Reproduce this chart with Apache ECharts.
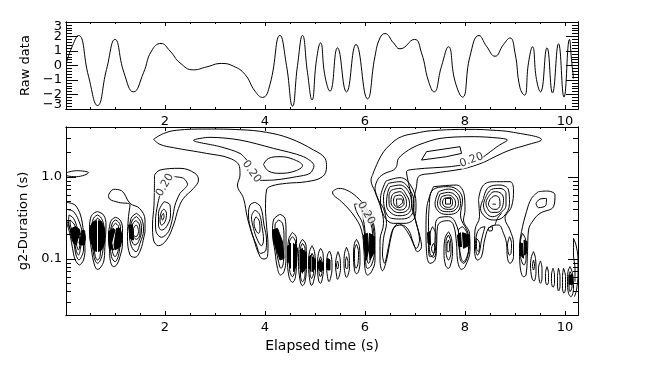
<!DOCTYPE html>
<html>
<head>
<meta charset="utf-8">
<style>
  html, body { margin: 0; padding: 0; background: #fff; }
  #chart { width: 656px; height: 371px; }
</style>
<script src="https://cdn.jsdelivr.net/npm/echarts@6/dist/echarts.min.js"></script>
</head>
<body>
<div id="chart"></div>
<script>
// x range in seconds, y range of the wavelet panel in log10(duration)
const tMin = 0.02, tMax = 10.26;
const rawMin = -3, rawMax = 3;
const lgMin = -1.683, lgMax = 0.61;

const tMajor = [2, 4, 6, 8, 10];
const tMinor = [0.5, 1, 1.5, 2, 2.5, 3, 3.5, 4, 4.5, 5, 5.5, 6, 6.5, 7, 7.5, 8, 8.5, 9, 9.5, 10];
const rawMajor = [-3, -2, -1, 0, 1, 2, 3];
const rawLabelAt = [-2, -1, 0, 1, 2];
// the end labels sit just inside the frame in the reference, not on their ticks
const rawEndLabelAt = [-2.72, 2.66];
const rawMinor = [-2.8, -2.6, -2.4, -2.2, -1.8, -1.6, -1.4, -1.2, -0.8, -0.6, -0.4, -0.2, 0.2, 0.4, 0.6, 0.8, 1.2, 1.4, 1.6, 1.8, 2.2, 2.4, 2.6, 2.8];
const durMajor = [1, 0.1];
const durMinor = [4, 3, 2, 0.9, 0.8, 0.7, 0.6, 0.5, 0.4, 0.3, 0.2, 0.09, 0.08, 0.07, 0.06, 0.05, 0.04, 0.03];

// raw data trace [time, value]
const rawData = [
  [0.03, 0.2], [0.13, 1.2], [0.27, 2.07], [0.47, -0.74], [0.65, -2.76], [0.83, -0.28], [1.0, 1.8], [1.18, -0.5],
  [1.37, -1.82], [1.57, -0.5], [1.73, 1.0], [1.92, 1.52], [2.1, 1.0], [2.3, 0.18], [2.57, -0.3], [2.83, -0.1],
  [3.13, 0.14], [3.37, -0.05], [3.6, -0.62], [3.8, -1.77], [3.95, -2.2], [4.1, -1.3], [4.3, 2.07], [4.43, 0],
  [4.55, -2.8], [4.65, 0], [4.75, 2.07], [4.85, -0.5], [4.94, -2.37], [5.03, 0.4], [5.11, 1.56], [5.2, -0.74],
  [5.3, -1.77], [5.45, 1.22], [5.63, -1.82], [5.82, 1.45], [6.05, -2.3], [6.2, 0.64], [6.3, 1.9], [6.4, 2.2],
  [6.57, 1.56], [6.7, 1.15], [6.99, 1.8], [7.13, 0.87], [7.27, -1.08], [7.38, -1.82], [7.53, -0.05], [7.67, 1.29],
  [7.8, -1.08], [7.95, -2.18], [8.1, 0.64], [8.28, 2.07], [8.43, 1.33], [8.6, 0.64], [8.77, 1.45], [8.9, 1.9],
  [9.0, 0.87], [9.1, -1.54], [9.19, -2.05], [9.27, 0.18], [9.35, 1.29], [9.43, -0.97], [9.51, -1.82], [9.64, 1.22],
  [9.75, -1.89], [9.87, 1.5], [9.98, -2.18], [10.09, 1.8], [10.13, 0.4], [10.17, -0.9]
];

// contours [time, log10(duration)], closed loops
const ridgeLeft = [
  [[1.77,.46],[1.97,.53],[2.23,.57],[2.83,.585],[3.5,.577],[4.03,.545],[4.5,.47],[4.97,.33],[5.2,.227],[5.23,.126],[5.15,.004],[4.83,-.057],[4.43,-.077],[4.13,-.11],[4.03,-.159],[4.01,-.382],[4.03,-.586],[4.06,-.83],[4.05,-.97],[3.98,-1.0],[3.9,-.97],[3.77,-.748],[3.65,-.504],[3.57,-.26],[3.45,-.098],[3.5,.024],[3.49,.126],[3.3,.227],[2.83,.288],[2.17,.358],[1.9,.398]],
  [[3.97,.154],[4.07,.227],[4.3,.248],[4.57,.215],[4.75,.138],[4.6,.073],[4.3,.045],[4.07,.073]]
];
const lobeEdge = [
  [[.03,.053],[.23,.077],[.47,.053],[.23,.004],[.03,.024]]
];
const lobe03 = [
  [[.08,-.463],[.17,-.504],[.25,-.626],[.33,-.748],[.31,-.869],[.27,-.951],[.22,-.89],[.18,-.747],[.11,-.646],[.07,-.544]],
  [[.1,-.524],[.18,-.573],[.25,-.666],[.3,-.788],[.27,-.89],[.23,-.829],[.18,-.687],[.11,-.597]]
];
const lobe065 = [
  [[.65,-.422],[.77,-.463],[.82,-.585],[.8,-.808],[.78,-1.012],[.7,-1.113],[.65,-1.126],[.59,-1.073],[.53,-.89],[.49,-.646],[.51,-.504],[.57,-.443]],
  [[.65,-.463],[.73,-.504],[.78,-.626],[.75,-.93],[.65,-1.052],[.58,-.971],[.53,-.646],[.57,-.504]],
  [[.65,-.504],[.72,-.544],[.73,-.626],[.7,-.971],[.65,-1.012],[.6,-.951],[.55,-.646],[.59,-.544]]
];
const lobe10 = [
  [[1.01,-.491],[1.1,-.524],[1.15,-.626],[1.15,-.808],[1.1,-.971],[1.03,-1.073],[.97,-1.093],[.91,-1.032],[.89,-.89],[.87,-.727],[.89,-.605],[.93,-.524]],
  [[1.01,-.524],[1.09,-.565],[1.11,-.646],[1.09,-.89],[1.0,-1.032],[.93,-.971],[.9,-.727],[.95,-.556]],
  [[1.01,-.565],[1.07,-.605],[1.07,-.849],[1.0,-.971],[.95,-.91],[.93,-.646],[.97,-.589]]
];
const lobe14 = [
  [[.87,-.22],[.97,-.15],[1.13,-.167],[1.3,-.321],[1.49,-.382],[1.6,-.525],[1.6,-.667],[1.58,-.727],[1.51,-.89],[1.4,-.979],[1.3,-.951],[1.25,-.727],[1.27,-.483],[1.3,-.341],[1.07,-.309],[.89,-.268]],
  [[1.43,-.443],[1.53,-.504],[1.57,-.646],[1.5,-.808],[1.42,-.91],[1.33,-.849],[1.29,-.687],[1.32,-.504]],
  [[1.43,-.483],[1.51,-.544],[1.53,-.646],[1.47,-.788],[1.4,-.829],[1.33,-.768],[1.31,-.626],[1.35,-.524]],
  [[1.42,-.532],[1.49,-.585],[1.5,-.687],[1.43,-.76],[1.37,-.727],[1.33,-.626],[1.37,-.556]],
  [[1.37,-.626],[1.42,-.585],[1.47,-.666],[1.42,-.727],[1.37,-.707]]
];
const lobe20 = [
  [[1.79,.024],[1.9,.085],[2.3,.106],[2.6,.045],[2.67,-.037],[2.57,-.138],[2.37,-.26],[2.27,-.382],[2.17,-.586],[2.03,-.768],[1.87,-.838],[1.77,-.768],[1.75,-.586],[1.78,-.342]],
  [[1.98,-.301],[2.1,-.342],[2.11,-.464],[2.03,-.606],[1.93,-.647],[1.87,-.586],[1.87,-.443]],
  [[1.98,-.39],[2.03,-.443],[2.0,-.545],[1.93,-.586],[1.9,-.525],[1.93,-.423]],
  [[1.97,-.443],[1.98,-.484],[1.95,-.525],[1.93,-.484]]
];
const lobe38 = [
  [[3.8,-.309],[3.91,-.362],[3.98,-.586],[4.03,-.768],[4.02,-.89],[3.91,-.931],[3.83,-.83],[3.73,-.667],[3.67,-.464],[3.7,-.342]],
  [[3.8,-.403],[3.89,-.455],[3.94,-.606],[3.97,-.768],[3.93,-.838],[3.85,-.768],[3.77,-.626],[3.73,-.484]],
  [[3.82,-.484],[3.89,-.545],[3.9,-.646],[3.87,-.687],[3.8,-.626],[3.78,-.545]]
];
const lobesDecay = [
  [[4.3,-.455],[4.4,-.504],[4.42,-.667],[4.42,-.992],[4.38,-1.154],[4.31,-1.195],[4.25,-1.114],[4.2,-.911],[4.15,-.667],[4.17,-.525]],
  [[4.27,-.525],[4.35,-.565],[4.38,-.748],[4.37,-1.033],[4.32,-1.114],[4.27,-1.033],[4.2,-.748],[4.2,-.586]],
  [[4.55,-.675],[4.63,-.748],[4.63,-.992],[4.61,-1.216],[4.55,-1.285],[4.48,-1.216],[4.45,-.992],[4.47,-.768]],
  [[4.55,-.728],[4.61,-.789],[4.6,-1.114],[4.55,-1.216],[4.49,-1.114],[4.49,-.789]],
  [[4.75,-.76],[4.82,-.83],[4.83,-1.073],[4.8,-1.277],[4.75,-1.325],[4.7,-1.256],[4.67,-1.033],[4.69,-.83]],
  [[4.75,-.809],[4.8,-.87],[4.8,-1.195],[4.75,-1.277],[4.71,-1.195],[4.71,-.87]],
  [[4.94,-.838],[4.99,-.911],[5.01,-1.114],[4.97,-1.277],[4.93,-1.321],[4.9,-1.277],[4.87,-1.073],[4.89,-.911]],
  [[4.94,-.931],[4.98,-.992],[4.97,-1.175],[4.93,-1.236],[4.9,-1.175],[4.91,-.992]],
  [[5.11,-.87],[5.16,-.931],[5.17,-1.114],[5.14,-1.256],[5.11,-1.297],[5.07,-1.256],[5.05,-1.073],[5.07,-.931]],
  [[5.11,-.972],[5.14,-1.033],[5.14,-1.154],[5.11,-1.216],[5.08,-1.154],[5.08,-1.033]],
  [[5.29,-.903],[5.33,-.972],[5.34,-1.114],[5.31,-1.236],[5.28,-1.277],[5.25,-1.216],[5.23,-1.073],[5.25,-.951]],
  [[5.46,-.911],[5.5,-.992],[5.51,-1.114],[5.48,-1.216],[5.45,-1.248],[5.43,-1.195],[5.41,-1.073],[5.43,-.972]],
  [[5.45,-1.025],[5.47,-1.073],[5.45,-1.122],[5.43,-1.073]],
  [[5.63,-.858],[5.68,-.951],[5.69,-1.093],[5.66,-1.195],[5.63,-1.224],[5.6,-1.175],[5.58,-1.053],[5.59,-.931]],
  [[5.63,-.972],[5.66,-1.033],[5.65,-1.114],[5.62,-1.114],[5.61,-1.033]],
  [[5.83,-.76],[5.89,-.85],[5.9,-1.033],[5.87,-1.155],[5.83,-1.179],[5.79,-1.134],[5.77,-.951],[5.79,-.809]],
  [[5.83,-.821],[5.87,-.911],[5.86,-1.053],[5.82,-1.114],[5.79,-1.033],[5.79,-.89]]
];
const lobe60 = [
  [[5.35,-.179],[5.47,-.139],[5.63,-.159],[5.83,-.24],[6.03,-.383],[6.17,-.565],[6.2,-.769],[6.2,-1.013],[6.13,-1.155],[6.05,-1.196],[6.0,-1.114],[5.98,-.911],[5.93,-.647],[5.77,-.464],[5.53,-.301],[5.37,-.22]],
  [[5.79,-.33],[5.9,-.342],[6.07,-.464],[6.17,-.647],[6.19,-.891],[6.13,-1.074],[6.05,-1.114],[6.01,-1.013],[6.0,-.769],[5.95,-.565],[5.83,-.423]],
  [[5.92,-.383],[6.05,-.484],[6.15,-.687],[6.13,-.931],[6.07,-1.053],[6.03,-.972],[6.01,-.728],[5.97,-.525]]
];
const archOuter = [
  [[6.15,.024],[6.33,.268],[6.53,.41],[6.73,.492],[7,.532],[7.33,.565],[8.1,.581],[8.5,.573],[8.97,.545],[9.53,.455],[9.23,.39],[8.9,.329],[8.6,.248],[8.37,.179],[8.1,.122],[7.9,.093],[7.37,.045],[7.07,.004],[7.03,-.118],[6.97,-.322],[7,-.504],[7.1,-.728],[7.13,-.85],[7.05,-.911],[6.97,-.809],[6.87,-.647],[6.73,-.586],[6.6,-.606],[6.53,-.708],[6.43,-1.013],[6.35,-1.143],[6.3,-1.013],[6.3,-.769],[6.37,-.565],[6.33,-.403],[6.2,-.179],[6.12,-.037]]
];
const lobe67 = [
  [[6.42,-.049],[6.7,-.008],[6.91,-.098],[7.02,-.321],[7,-.484],[6.8,-.565],[6.57,-.565],[6.37,-.464],[6.31,-.26]],
  [[6.47,-.077],[6.7,-.057],[6.9,-.159],[6.98,-.321],[6.93,-.464],[6.73,-.512],[6.53,-.504],[6.4,-.403],[6.37,-.24]],
  [[6.5,-.118],[6.7,-.098],[6.87,-.179],[6.93,-.321],[6.89,-.431],[6.7,-.472],[6.53,-.443],[6.43,-.342],[6.45,-.199]],
  [[6.53,-.159],[6.7,-.138],[6.83,-.22],[6.89,-.321],[6.85,-.403],[6.7,-.435],[6.57,-.411],[6.48,-.321],[6.48,-.22]],
  [[6.57,-.199],[6.7,-.179],[6.8,-.24],[6.83,-.321],[6.8,-.382],[6.7,-.403],[6.58,-.374],[6.52,-.309],[6.53,-.24]],
  [[6.6,-.232],[6.7,-.22],[6.77,-.268],[6.78,-.329],[6.73,-.362],[6.67,-.374],[6.59,-.342],[6.57,-.281]],
  [[6.63,-.268],[6.73,-.268],[6.75,-.309],[6.7,-.342],[6.65,-.362]]
];
const lobe76 = [
  [[7.37,-.118],[7.83,-.098],[7.99,-.24],[8,-.403],[7.97,-.525],[8.09,-.687],[8.1,-.891],[8,-1.094],[7.93,-1.126],[7.85,-1.013],[7.83,-.809],[7.77,-.586],[7.67,-.533],[7.53,-.545],[7.45,-.606],[7.43,-.85],[7.4,-1.013],[7.3,-1.053],[7.23,-.911],[7.22,-.647],[7.23,-.403],[7.29,-.24]],
  [[7.29,-.322],[7.31,-.2],[7.47,-.126],[7.67,-.118],[7.87,-.167],[7.95,-.281],[7.91,-.464],[8.07,-.728],[8.07,-.891],[7.97,-1.053],[7.9,-.992],[7.89,-.769],[7.8,-.545],[7.67,-.484],[7.5,-.492],[7.41,-.565],[7.4,-.769],[7.37,-.952],[7.3,-.972],[7.27,-.809],[7.27,-.525]],
  [[7.47,-.179],[7.67,-.147],[7.85,-.2],[7.91,-.322],[7.85,-.423],[7.67,-.456],[7.49,-.431],[7.4,-.322]],
  [[7.5,-.208],[7.67,-.187],[7.82,-.232],[7.87,-.322],[7.8,-.403],[7.67,-.423],[7.51,-.403],[7.45,-.322]],
  [[7.53,-.24],[7.67,-.22],[7.78,-.261],[7.81,-.322],[7.77,-.383],[7.67,-.395],[7.55,-.374],[7.5,-.313]],
  [[7.58,-.261],[7.7,-.248],[7.75,-.301],[7.73,-.354],[7.67,-.37],[7.58,-.354],[7.55,-.305]],
  [[7.35,-.606],[7.42,-.708],[7.42,-.911],[7.37,-.98],[7.3,-.931],[7.28,-.748]],
  [[7.37,-.809],[7.41,-.87],[7.37,-.931],[7.33,-.87]],
  [[7.67,-.667],[7.73,-.748],[7.75,-.931],[7.71,-1.074],[7.67,-1.114],[7.61,-1.074],[7.58,-.911],[7.6,-.748]],
  [[7.67,-.708],[7.71,-.777],[7.72,-.911],[7.67,-1.013],[7.62,-.911],[7.62,-.777]],
  [[7.67,-.769],[7.69,-.83],[7.68,-.911],[7.65,-.911],[7.64,-.83]],
  [[7.95,-.606],[8.03,-.667],[8.09,-.809],[8.05,-.952],[7.97,-1.033],[7.91,-.952],[7.87,-.769],[7.87,-.647]]
];
const lobe86 = [
  [[8.27,-.281],[8.37,-.098],[8.63,-.057],[8.9,-.057],[8.97,-.159],[8.93,-.362],[8.8,-.504],[8.9,-.647],[8.97,-.809],[8.97,-.972],[8.9,-1.053],[8.85,-.992],[8.83,-.809],[8.77,-.687],[8.67,-.586],[8.5,-.606],[8.4,-.748],[8.33,-.972],[8.25,-1.013],[8.19,-.891],[8.2,-.647],[8.29,-.484]],
  [[8.37,-.261],[8.47,-.126],[8.7,-.098],[8.87,-.159],[8.89,-.321],[8.77,-.484],[8.57,-.525],[8.4,-.484],[8.31,-.383]],
  [[8.42,-.24],[8.53,-.151],[8.7,-.139],[8.82,-.2],[8.82,-.342],[8.7,-.443],[8.55,-.484],[8.43,-.443],[8.37,-.342]],
  [[8.47,-.24],[8.58,-.179],[8.7,-.191],[8.77,-.261],[8.75,-.362],[8.65,-.431],[8.53,-.431],[8.45,-.383],[8.42,-.313]],
  [[8.5,-.273],[8.6,-.228],[8.69,-.261],[8.7,-.342],[8.62,-.395],[8.53,-.383],[8.47,-.33]],
  [[8.4,-.606],[8.33,-.769],[8.29,-.911],[8.25,-.952],[8.21,-.85],[8.23,-.708],[8.3,-.626]],
  [[8.23,-.748],[8.29,-.809],[8.27,-.911],[8.23,-.87]],
  [[8.89,-.728],[8.93,-.809],[8.92,-.931],[8.89,-.952],[8.85,-.83]],
  [[8.47,-.618],[8.55,-.606],[8.55,-.647],[8.48,-.659]]
];
const lobe94 = [
  [[9.47,-.179],[9.63,-.171],[9.8,-.22],[9.77,-.362],[9.5,-.443],[9.37,-.525],[9.27,-.647],[9.25,-.911],[9.22,-1.196],[9.17,-1.216],[9.1,-1.074],[9.09,-.87],[9.13,-.667],[9.23,-.423],[9.33,-.261]],
  [[9.42,-.322],[9.5,-.269],[9.63,-.261],[9.62,-.342],[9.47,-.374]],
  [[9.15,-.687],[9.22,-.789],[9.22,-.992],[9.18,-1.074],[9.11,-.952],[9.11,-.789]]
];
const lobesTail = [
  [[9.37,-.91],[9.41,-.992],[9.42,-1.154],[9.38,-1.268],[9.34,-1.235],[9.31,-1.073],[9.33,-.971]],
  [[9.37,-1.012],[9.39,-1.073],[9.37,-1.134],[9.35,-1.073]],
  [[9.51,-1.024],[9.54,-1.113],[9.54,-1.235],[9.51,-1.296],[9.48,-1.235],[9.47,-1.113]],
  [[9.64,-1.093],[9.67,-1.175],[9.67,-1.276],[9.64,-1.317],[9.61,-1.256],[9.61,-1.175]],
  [[9.76,-1.113],[9.79,-1.195],[9.79,-1.296],[9.76,-1.345],[9.73,-1.276],[9.73,-1.195]],
  [[9.87,-1.113],[9.9,-1.215],[9.9,-1.337],[9.87,-1.39],[9.85,-1.317],[9.85,-1.215]],
  [[9.97,-1.113],[10.01,-1.215],[10.01,-1.357],[9.98,-1.418],[9.95,-1.357],[9.95,-1.215]],
  [[10.1,-1.093],[10.15,-1.175],[10.17,-1.357],[10.12,-1.459],[10.07,-1.418],[10.05,-1.276],[10.06,-1.154]],
  [[10.1,-1.154],[10.14,-1.215],[10.14,-1.337],[10.1,-1.398],[10.08,-1.317],[10.08,-1.215]]
];

// contours that stop at the edge or at a printed level label
const openContours = [
  [[.03,-.308],[.2,-.341],[.31,-.463],[.37,-.666],[.4,-.89],[.37,-1.012],[.29,-1.073],[.2,-1.004],[.15,-.869],[.11,-.727],[.07,-.626],[.03,-.565]],
  [[.03,-.394],[.17,-.422],[.27,-.524],[.35,-.687],[.37,-.89],[.33,-.971],[.28,-1.012],[.22,-.951],[.18,-.808],[.13,-.687],[.07,-.585],[.03,-.53]],
  [[3.65,.195],[3.5,.288],[3.1,.37],[2.57,.447],[2.9,.484],[3.5,.451],[4.17,.349],[4.77,.248],[4.98,.138],[4.9,.045],[4.63,.004],[4.17,-.037],[3.89,-.041]],
  [[1.9,-.212],[1.85,-.342],[1.81,-.525],[1.82,-.667],[1.93,-.736],[2.07,-.667],[2.15,-.504],[2.2,-.342],[2.3,-.2],[2.45,-.09],[2.37,-.016],[2.17,.004]],
  [[7.93,.146],[7.7,.126],[7.03,.097],[6.83,.065],[6.87,-.077],[6.93,-.24],[6.95,-.403],[7.03,-.565],[7.09,-.769],[7.03,-.87],[6.99,-.85],[6.92,-.748],[6.8,-.626],[6.67,-.565],[6.55,-.647],[6.47,-.85],[6.39,-1.053],[6.35,-.952],[6.37,-.748],[6.43,-.565],[6.37,-.383],[6.27,-.281],[6.2,-.138],[6.27,-.016],[6.4,.045],[6.57,.085],[6.63,.126],[6.67,.227],[6.87,.329],[7.1,.398],[7.5,.471],[8.1,.492],[8.5,.484],[8.85,.451],[8.67,.382],[8.33,.227]],
  [[8.6,-.586],[8.65,-.504],[8.73,-.443]],
  [[8.55,-.33],[8.62,-.333]],
  [[10.17,-.748],[10.22,-.829],[10.26,-.991],[10.26,-1.195],[10.23,-1.378],[10.19,-1.459]],
  [[10.17,-.748],[10.17,-.951],[10.2,-1.113],[10.2,-1.276]]
];

// angular contours at the centre of a peak
const sharpContours = [
  [[7.13,.207],[7.23,.309],[7.9,.37],[7.93,.288],[7.63,.248]],
  [[7.61,-.261],[7.71,-.261],[7.71,-.33],[7.61,-.33]]
];

// areas where contours are packed too tight to separate
const packedAreas = [
  [[.11,-.638],[.2,-.605],[.29,-.638],[.3,-.687],[.25,-.768],[.23,-.829],[.17,-.808],[.12,-.727]],
  [[.33,-.654],[.39,-.654],[.41,-.747],[.39,-.829],[.3,-.829],[.28,-.8],[.32,-.719]],
  [[.5,-.605],[.57,-.544],[.63,-.532],[.63,-.91],[.57,-.89],[.5,-.747]],
  [[.67,-.532],[.73,-.544],[.79,-.626],[.79,-.808],[.73,-.89],[.67,-.91]],
  [[.87,-.666],[.97,-.626],[1,-.646],[.93,-.808],[.97,-.89],[.89,-.869],[.87,-.768]],
  [[1.03,-.626],[1.1,-.626],[1.15,-.727],[1.11,-.849],[1,-.89],[.98,-.829]],
  [[1.27,-.585],[1.35,-.585],[1.37,-.768],[1.3,-.748]],
  [[4.15,-.646],[4.25,-.626],[4.35,-.789],[4.38,-.992],[4.3,-1.012],[4.23,-.89],[4.17,-.789]],
  [[4.45,-.85],[4.51,-.809],[4.51,-1.114],[4.45,-.992]],
  [[4.57,-.809],[4.65,-.87],[4.63,-1.073],[4.57,-1.154]],
  [[4.7,-.89],[4.75,-.87],[4.75,-1.175],[4.7,-1.114]],
  [[4.77,-.89],[4.83,-.931],[4.81,-1.114],[4.77,-1.154]],
  [[4.88,-.972],[4.92,-.951],[4.92,-1.154],[4.89,-1.114]],
  [[4.95,-.972],[5.01,-1.012],[5,-1.114],[4.95,-1.154]],
  [[5.07,-1.033],[5.11,-1.012],[5.11,-1.154],[5.07,-1.114]],
  [[5.12,-1.033],[5.17,-1.053],[5.17,-1.114],[5.12,-1.154]],
  [[5.25,-.992],[5.3,-1.012],[5.3,-1.134],[5.25,-1.134]],
  [[5.97,-.708],[6.05,-.687],[6.07,-.891],[6.03,-1.013],[5.99,-.891]],
  [[6.09,-.687],[6.19,-.728],[6.19,-.911],[6.1,-1.013],[6.08,-.85]],
  [[7.25,-.679],[7.3,-.667],[7.31,-.83],[7.26,-.809]],
  [[7.85,-.708],[7.91,-.679],[7.93,-.85],[7.87,-.842]],
  [[7.95,-.679],[8.08,-.708],[8.09,-.83],[7.97,-.87]],
  [[9.1,-.809],[9.15,-.809],[9.17,-.992],[9.11,-.952]],
  [[9.18,-.769],[9.24,-.789],[9.23,-.931],[9.19,-.952]],
  [[10.08,-1.195],[10.15,-1.195],[10.15,-1.309],[10.08,-1.309]]
];

// printed level labels [time, log10(duration), rotation]
const levelLabels = [
  [2.0, -.098, 60],
  [3.73, .065, -55],
  [8.13, .207, 20],
  [6.02, -.44, -60]
];
const levelText = "0.20";

const closedContours = [].concat(ridgeLeft, lobeEdge, lobe03, lobe065, lobe10, lobe14, lobe20, lobe38, lobesDecay, lobe60, archOuter, lobe67, lobe76, lobe86, lobe94, lobesTail);

const font = { color: "#000", fontFamily: "DejaVu Sans", fontSize: 13 };

function frameX(grid, position, ticks, length, labels, name) {
  return {
    type: "value", gridIndex: grid, position: position, min: tMin, max: tMax,
    name: name, nameLocation: "middle", nameGap: 18, nameTextStyle: Object.assign({}, font, { fontSize: 14 }),
    axisLine: { show: true, onZero: false, lineStyle: { color: "#000", width: 1 } },
    splitLine: { show: false },
    axisTick: { show: true, inside: true, length: length, customValues: ticks, lineStyle: { color: "#000", width: 1 } },
    axisLabel: labels ? Object.assign({ show: true, customValues: labels, margin: 6 }, font) : { show: false }
  };
}

function frameY(grid, position, min, max, ticks, length, label, name, gap) {
  return {
    type: "value", gridIndex: grid, position: position, min: min, max: max,
    name: name, nameLocation: "middle", nameGap: gap, nameRotate: 90, nameTextStyle: font,
    axisLine: { show: true, onZero: false, lineStyle: { color: "#000", width: 1 } },
    splitLine: { show: false },
    axisTick: { show: true, inside: true, length: length, customValues: ticks, lineStyle: { color: "#000", width: 1 } },
    axisLabel: label ? Object.assign({ show: true, interval: 0, margin: 4, showMinLabel: true, showMaxLabel: true, hideOverlap: false }, font, label) : { show: false }
  };
}

const durTicksMajor = durMajor.map(Math.log10);
const durTicksMinor = durMinor.map(Math.log10);
const rawLabel = (v) => String(Math.round(v)).replace("-", "\u2212");

function contourLine(points, closed, smooth) {
  return {
    type: "line", xAxisIndex: 4, yAxisIndex: 4, data: closed ? points.concat([points[0]]) : points,
    showSymbol: false, symbol: "none", smooth: smooth, silent: true, clip: true,
    lineStyle: { color: "#000", width: 1 }
  };
}

const series = [
  { type: "line", xAxisIndex: 0, yAxisIndex: 0, data: rawData, showSymbol: false, symbol: "none", smooth: 0.5, clip: true, lineStyle: { color: "#000", width: 1 } },
  {
    type: "custom", xAxisIndex: 4, yAxisIndex: 4, data: packedAreas.map((area, index) => [index, 0]), silent: true,
    renderItem: (params, api) => ({
      type: "polygon",
      shape: { points: packedAreas[params.dataIndex].map((p) => api.coord(p)) },
      style: { fill: "#000", stroke: "#000", lineWidth: 1 }
    })
  }
];
closedContours.forEach((points) => series.push(contourLine(points, true, 0.4)));
openContours.forEach((points) => series.push(contourLine(points, false, 0.3)));
sharpContours.forEach((points) => series.push(contourLine(points, true, false)));
series.push({
  type: "scatter", xAxisIndex: 4, yAxisIndex: 4, symbolSize: 0, silent: true, z: 5,
  data: levelLabels.map((item) => ({ value: [item[0], item[1]], label: { rotate: item[2] } })),
  label: { show: true, position: "inside", formatter: levelText, color: "#000", fontFamily: "DejaVu Sans", fontSize: 11, backgroundColor: "#fff" }
});

const chart = echarts.init(document.getElementById("chart"), null, { renderer: "canvas" });
chart.setOption({
  animation: false,
  backgroundColor: "#fff",
  grid: [
    { left: 66, right: 78, top: 22, height: 87 },
    { left: 66, right: 78, top: 127, height: 188 }
  ],
  xAxis: [
    frameX(0, "bottom", tMajor, 4, tMajor),
    frameX(0, "bottom", tMinor, 2),
    frameX(0, "top", tMajor, 4),
    frameX(0, "top", tMinor, 2),
    frameX(1, "bottom", tMajor, 4, tMajor, "Elapsed time (s)"),
    frameX(1, "bottom", tMinor, 2),
    frameX(1, "top", tMajor, 4),
    frameX(1, "top", tMinor, 2)
  ],
  yAxis: [
    frameY(0, "left", rawMin, rawMax, rawMajor, 12, { customValues: rawLabelAt, formatter: rawLabel }, "Raw data", 30),
    frameY(0, "left", rawMin, rawMax, rawMinor, 6, { customValues: rawEndLabelAt, formatter: rawLabel }),
    frameY(0, "right", rawMin, rawMax, rawMajor, 12),
    frameY(0, "right", rawMin, rawMax, rawMinor, 6),
    frameY(1, "left", lgMin, lgMax, durTicksMajor, 10, { customValues: durTicksMajor, formatter: (v) => Math.pow(10, v).toFixed(1) }, "g2-Duration (s)", 32),
    frameY(1, "left", lgMin, lgMax, durTicksMinor, 5),
    frameY(1, "right", lgMin, lgMax, durTicksMajor, 10),
    frameY(1, "right", lgMin, lgMax, durTicksMinor, 5)
  ],
  series: series
});
</script>
</body>
</html>
